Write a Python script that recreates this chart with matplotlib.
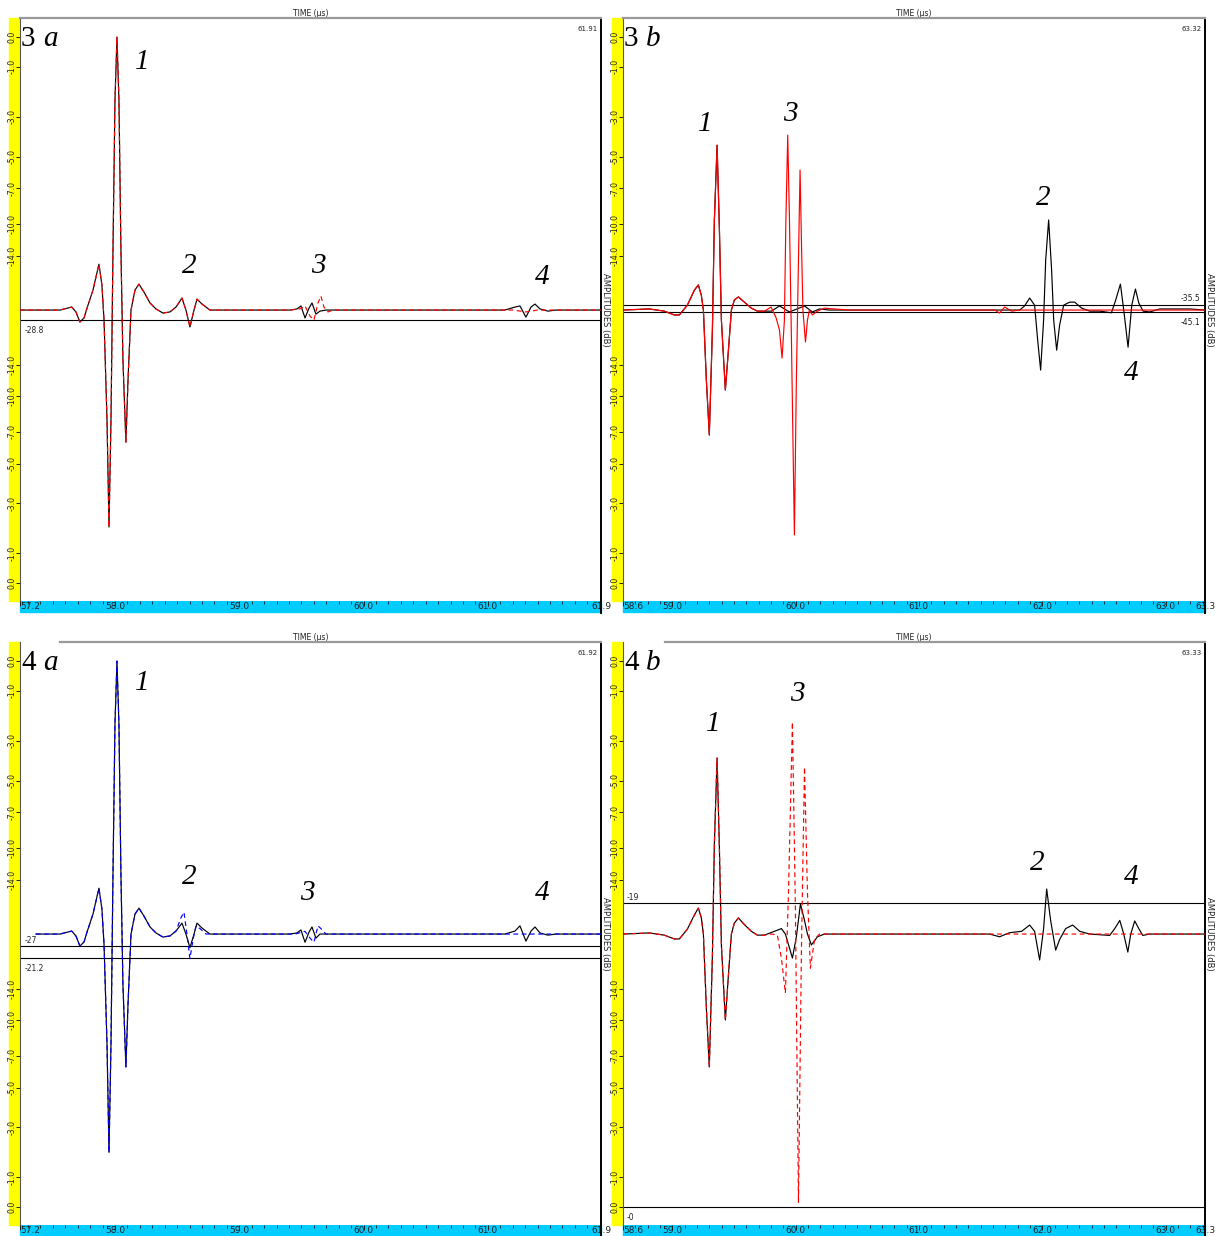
import matplotlib
matplotlib.use('Agg')
import matplotlib.pyplot as plt
from matplotlib.patches import Rectangle
from matplotlib.lines import Line2D

W, H = 1215, 1236
fig = plt.figure(figsize=(W / 100, H / 100), dpi=100)

# ---------------- data (time in microseconds, linear amplitude, 1 = 0 dB) ----------------
db_levels = [0.0, -1.0, -3.0, -5.0, -7.0, -10.0, -14.0]
db_labels = ["0.0", "-1.0", "-3.0", "-5.0", "-7.0", "-10.0", "-14.0"]

# Panel 3a : black solid and red dashed
t_3a_black = [57.236, 57.558, 57.652, 57.686, 57.718, 57.751, 57.775, 57.823, 57.871, 57.895,
              57.912, 57.936, 57.952, 57.968, 57.984, 58.000, 58.016, 58.032, 58.048, 58.064,
              58.088, 58.105, 58.129, 58.161, 58.193, 58.233, 58.282, 58.330, 58.386, 58.442,
              58.491, 58.539, 58.571, 58.603, 58.636, 58.660, 58.700, 58.764, 59.408, 59.464,
              59.496, 59.529, 59.561, 59.585, 59.617, 59.649, 59.697, 61.137, 61.218, 61.258,
              61.306, 61.347, 61.379, 61.419, 61.483, 61.548, 61.910]
a_3a_black = [0.0, 0.0, 0.011, -0.007, -0.044, -0.029, 0.007, 0.073, 0.168, 0.092,
              -0.037, -0.403, -0.795, -0.403, 0.220, 0.769, 1.000, 0.769, 0.220, -0.183,
              -0.484, -0.256, 0.0, 0.073, 0.095, 0.066, 0.026, 0.004, -0.011, -0.007,
              0.011, 0.044, 0.0, -0.062, 0.0, 0.040, 0.022, 0.0, 0.0, 0.004,
              0.015, -0.029, 0.007, 0.026, -0.015, -0.004, 0.0, 0.0, 0.011, 0.015,
              -0.026, 0.011, 0.022, 0.004, -0.004, 0.0, 0.0]
t_3a_red = t_3a_black[:38] + [59.408, 59.488, 59.529, 59.569, 59.601, 59.633, 59.657, 59.681,
                              59.714, 59.754, 61.200, 61.306, 61.400, 61.910]
a_3a_red = a_3a_black[:38] + [0.0, 0.004, 0.015, -0.022, -0.037, 0.026, 0.051, 0.011,
                              -0.007, 0.0, 0.0, -0.007, 0.0, 0.0]

# Panel 3b : black solid and red solid
t_3b_common = [58.600, 58.813, 58.935, 59.016, 59.057, 59.122, 59.179, 59.211, 59.235, 59.252,
               59.276, 59.300, 59.325, 59.341, 59.363, 59.382, 59.398, 59.430, 59.455, 59.479,
               59.503, 59.536, 59.584, 59.641, 59.690, 59.747]
a_3b_common = [0.0, 0.004, -0.004, -0.018, -0.018, 0.018, 0.073, 0.092, 0.055, 0.0,
               -0.256, -0.458, -0.073, 0.330, 0.604, 0.293, -0.037, -0.293, -0.147, 0.0,
               0.037, 0.048, 0.029, 0.007, -0.004, -0.004]
t_3b_red = t_3b_common + [59.801, 59.842, 59.869, 59.890, 59.909, 59.921, 59.936, 59.950, 59.966,
                          59.990, 60.006, 60.023, 60.036, 60.047, 60.059, 60.080, 60.096, 60.112,
                          60.136, 60.177, 60.234, 60.315, 60.437, 61.614, 61.654, 61.695, 61.752,
                          61.817, 63.320]
a_3b_red = a_3b_common + [0.011, -0.029, -0.073, -0.176, -0.037, 0.330, 0.641, 0.330, -0.110,
                          -0.824, -0.256, 0.183, 0.513, 0.256, 0.0, -0.117, -0.037, 0.0,
                          -0.018, -0.004, 0.007, 0.004, 0.0, 0.0, -0.011, 0.011, -0.004,
                          0.0, 0.0]
t_3b_black = t_3b_common + [59.804, 59.869, 59.950, 60.072, 60.136, 60.193, 60.274, 61.817, 61.857,
                            61.898, 61.938, 61.963, 61.987, 62.011, 62.028, 62.052, 62.076, 62.093,
                            62.117, 62.141, 62.174, 62.223, 62.263, 62.320, 62.385, 62.466, 62.561,
                            62.596, 62.634, 62.661, 62.696, 62.726, 62.756, 62.783, 62.818, 62.872,
                            62.953, 63.197, 63.320]
a_3b_black = a_3b_common + [-0.004, 0.015, -0.007, 0.015, -0.007, 0.004, 0.0, 0.0, 0.015,
                            0.044, 0.018, -0.110, -0.220, -0.037, 0.183, 0.330, 0.147, -0.037,
                            -0.147, -0.055, 0.018, 0.029, 0.029, 0.007, -0.004, -0.004, -0.010,
                            0.037, 0.095, 0.0, -0.136, 0.018, 0.077, 0.026, -0.004, -0.007,
                            0.004, 0.004, 0.0]

# Panel 4a : black solid and blue dashed
t_4a_common = [57.364, 57.558, 57.652, 57.686, 57.718, 57.751, 57.775, 57.823, 57.871, 57.895,
               57.912, 57.936, 57.952, 57.968, 57.984, 58.000, 58.016, 58.032, 58.048, 58.064,
               58.088, 58.105, 58.129, 58.161, 58.193, 58.233, 58.282, 58.330, 58.386, 58.442,
               58.491]
a_4a_common = [0.0, 0.0, 0.011, -0.007, -0.044, -0.029, 0.007, 0.073, 0.168, 0.092,
               -0.037, -0.403, -0.800, -0.403, 0.220, 0.769, 1.000, 0.769, 0.220, -0.183,
               -0.487, -0.256, 0.0, 0.073, 0.095, 0.066, 0.026, 0.004, -0.011, -0.007,
               0.011]
t_4a_black = t_4a_common + [58.539, 58.571, 58.603, 58.636, 58.660, 58.700, 58.764, 59.408, 59.464,
                            59.496, 59.529, 59.561, 59.585, 59.617, 59.649, 59.697, 61.137, 61.218,
                            61.258, 61.306, 61.347, 61.379, 61.419, 61.483, 61.548, 61.910]
a_4a_black = a_4a_common + [0.040, 0.0, -0.050, 0.0, 0.040, 0.022, 0.0, 0.0, 0.004,
                            0.015, -0.030, 0.007, 0.026, -0.015, 0.0, 0.0, 0.0, 0.011,
                            0.030, -0.026, 0.011, 0.026, 0.004, -0.004, 0.0, 0.0]
t_4a_blue = t_4a_common + [58.531, 58.555, 58.579, 58.603, 58.628, 58.652, 58.684, 58.732, 59.450,
                           59.529, 59.569, 59.601, 59.633, 59.657, 59.697, 59.750, 61.910]
a_4a_blue = a_4a_common + [0.060, 0.080, 0.0, -0.090, -0.020, 0.030, 0.020, 0.0, 0.0,
                           0.010, -0.015, -0.030, 0.030, 0.020, 0.0, 0.0, 0.0]

# Panel 4b : black solid and red dashed
t_4b_common = [58.600, 58.813, 58.935, 59.016, 59.057, 59.122, 59.179, 59.211, 59.235, 59.252,
               59.276, 59.300, 59.325, 59.341, 59.363, 59.382, 59.398, 59.430, 59.455, 59.479,
               59.503, 59.536, 59.584, 59.641, 59.690, 59.747]
a_4b_common = [0.0, 0.004, -0.004, -0.018, -0.018, 0.018, 0.070, 0.095, 0.060, 0.0,
               -0.270, -0.487, -0.080, 0.330, 0.645, 0.310, -0.040, -0.315, -0.150, 0.0,
               0.040, 0.059, 0.035, 0.010, -0.004, -0.004]
t_4b_black = t_4b_common + [59.828, 59.885, 59.917, 59.974, 60.006, 60.039, 60.072, 60.096, 60.128,
                            60.177, 60.234, 61.573, 61.654, 61.736, 61.833, 61.898, 61.938, 61.979,
                            62.011, 62.036, 62.068, 62.109, 62.141, 62.190, 62.247, 62.304, 62.385,
                            62.547, 62.588, 62.629, 62.661, 62.694, 62.718, 62.750, 62.783, 62.815,
                            62.872, 63.320]
a_4b_black = a_4b_common + [0.010, 0.020, 0.0, -0.088, -0.010, 0.110, 0.050, 0.0, -0.040,
                            -0.010, 0.0, 0.0, -0.010, 0.005, 0.010, 0.033, 0.010, -0.095,
                            0.020, 0.165, 0.050, -0.059, -0.020, 0.020, 0.033, 0.010, 0.0,
                            -0.005, 0.020, 0.050, 0.0, -0.066, 0.0, 0.048, 0.020, -0.005,
                            0.0, 0.0]
t_4b_red = t_4b_common + [59.804, 59.852, 59.885, 59.917, 59.942, 59.974, 59.998, 60.023, 60.047,
                          60.072, 60.096, 60.120, 60.153, 60.193, 63.320]
a_4b_red = a_4b_common + [0.0, -0.004, -0.090, -0.216, 0.150, 0.777, 0.100, -0.985, -0.060,
                          0.612, 0.150, -0.125, -0.020, 0.0, 0.0]

# reference threshold lines (dB value, sign of amplitude)
ref_3a = [(-28.8, -1)]
ref_3b = [(-35.5, 1), (-45.1, -1)]
ref_4a = [(-27.0, -1), (-21.2, -1)]
ref_4b = [(-19.0, 1), (-0.0, -1)]

SERIF = ['Liberation Serif', 'DejaVu Serif']


def fbox(x0, y0, x1, y1):
    return [x0 / W, 1 - y1 / H, (x1 - x0) / W, (y1 - y0) / H]


def panel(box, xlim, xmaj, endlabels, corner, num, letter, curves, refs, reflabels, echo_labels,
          topline_start):
    x0, y0, x1, y1 = box
    # yellow amplitude bar and cyan time bar (behind the axes and their tick labels)
    fig.patches.append(Rectangle(((x0 - 11) / W, 1 - y1 / H), 11 / W, (y1 - y0) / H,
                                 transform=fig.transFigure, color='#ffff00', zorder=-5))
    fig.patches.append(Rectangle((x0 / W, 1 - (y1 + 11) / H), (x1 - x0) / W, 11 / H,
                                 transform=fig.transFigure, color='#00ccff', zorder=-5))
    ax = fig.add_axes(fbox(x0, y0, x1, y1))
    ax.set_xlim(*xlim)
    ax.set_ylim(-1.066, 1.07)
    for s in ['top', 'bottom']:
        ax.spines[s].set_visible(False)
    ax.spines['left'].set_color('#555555')
    ax.spines['left'].set_linewidth(0.8)
    ax.spines['right'].set_color('black')
    ax.spines['right'].set_linewidth(1.4)
    # top grey line
    fig.lines.append(Line2D([topline_start / W, x1 / W], [1 - (y0 - 0.5) / H] * 2,
                            transform=fig.transFigure, color='#999999', lw=1.6))
    # right border extends over the cyan bar
    fig.lines.append(Line2D([x1 / W, x1 / W], [1 - y1 / H, 1 - (y1 + 12) / H],
                            transform=fig.transFigure, color='black', lw=1.4))
    # y ticks (dB on linear amplitude)
    pos = [10 ** (d / 20) for d in db_levels]
    yt = pos + [-p for p in pos]
    yl = db_labels + db_labels
    ax.set_yticks(yt)
    ax.set_yticklabels(yl)
    ax.tick_params(axis='y', direction='out', length=2.8, width=0.7, pad=-0.6, labelsize=5.6,
                   labelrotation=90, colors='#222222')
    for lab in ax.get_yticklabels():
        lab.set_verticalalignment('center')
    # x ticks
    ticks = [xlim[0]] + xmaj + [xlim[1]]
    labs = [endlabels[0]] + ["%.1f" % v for v in xmaj] + [endlabels[1]]
    ax.set_xticks(ticks)
    ax.set_xticklabels(labs)
    ax.set_xticks([round(xlim[0] + 0.1 * i, 1) for i in range(1, 60)
                   if xlim[0] + 0.1 * i < xlim[1]], minor=True)
    ax.tick_params(axis='x', which='major', direction='out', length=3.6, width=0.7, pad=-2.6,
                   labelsize=6.5, colors='#222222')
    ax.tick_params(axis='x', which='minor', direction='out', length=2.2, width=0.6, colors='#222222')
    xl = ax.get_xticklabels()
    xl[0].set_horizontalalignment('left')
    # curves
    for t, a, col, ls, lw, z in curves:
        ax.plot(t, a, color=col, ls=ls, lw=lw, zorder=z)
    # reference lines
    for (d, sgn), (txt, tx, dy, ha) in zip(refs, reflabels):
        yv = sgn * 10 ** (d / 20)
        ax.axhline(yv, color='black', lw=0.8, zorder=1)
        ax.annotate(txt, xy=(tx, yv), xycoords=('axes fraction', 'data'),
                    xytext=(0, dy), textcoords='offset pixels', ha=ha, va='center',
                    fontsize=5.5, color='#222222')
    # texts
    ax.text(0.5, 1.0, 'TIME (µs)', transform=ax.transAxes, ha='center', va='bottom',
            fontsize=5.5, color='#222222')
    ax.text(0.994, 0.981, corner, transform=ax.transAxes, ha='right', va='center',
            fontsize=5, color='#222222')
    fig.text((x1 + 5) / W, 1 - ((y0 + y1) / 2) / H, 'AMPLITUDES (dB)', rotation=270,
             ha='center', va='center', fontsize=6, color='#222222')
    fig.text((x0 + 1) / W, 1 - (y0 + 21) / H, num, ha='left', va='center', fontsize=21,
             family=SERIF)
    fig.text((x0 + 23) / W, 1 - (y0 + 21) / H, letter, ha='left', va='center', fontsize=21,
             family=SERIF, style='italic')
    for txt, tx, ty in echo_labels:
        ax.text(tx, ty, txt, ha='center', va='center', fontsize=21, family=SERIF,
                style='italic')
    return ax


DASH = (0, (4, 3))
LW = 0.85

panel((20, 18, 601, 601), (57.236, 61.91), [58.0, 59.0, 60.0, 61.0], ('57.2', '61.9'), '61.91',
      '3', 'a',
      [(t_3a_black, a_3a_black, 'black', '-', LW, 3),
       (t_3a_red, a_3a_red, 'red', DASH, LW, 4)],
      ref_3a, [('-28.8', 0.008, -11, 'left')],
      [('1', 58.22, 0.91), ('2', 58.60, 0.16), ('3', 59.64, 0.16), ('4', 61.44, 0.12)],
      20)

panel((623, 18, 1205, 601), (58.6, 63.32), [59.0, 60.0, 61.0, 62.0, 63.0], ('58.6', '63.3'),
      '63.32', '3', 'b',
      [(t_3b_black, a_3b_black, 'black', '-', LW, 3),
       (t_3b_red, a_3b_red, 'red', '-', LW, 4)],
      ref_3b, [('-35.5', 0.992, 7, 'right'), ('-45.1', 0.992, -11, 'right')],
      [('1', 59.27, 0.68), ('3', 59.96, 0.72), ('2', 62.01, 0.41), ('4', 62.72, -0.23)],
      623)

panel((20, 642, 601, 1225), (57.236, 61.91), [58.0, 59.0, 60.0, 61.0], ('57.2', '61.9'), '61.92',
      '4', 'a',
      [(t_4a_black, a_4a_black, 'black', '-', LW, 3),
       (t_4a_blue, a_4a_blue, 'blue', DASH, LW, 4)],
      ref_4a, [('-27', 0.008, 6, 'left'), ('-21.2', 0.008, -11, 'left')],
      [('1', 58.22, 0.92), ('2', 58.60, 0.21), ('3', 59.55, 0.15), ('4', 61.44, 0.15)],
      60)

panel((623, 642, 1205, 1225), (58.6, 63.32), [59.0, 60.0, 61.0, 62.0, 63.0], ('58.6', '63.3'),
      '63.33', '4', 'b',
      [(t_4b_black, a_4b_black, 'black', '-', LW, 3),
       (t_4b_red, a_4b_red, 'red', DASH, LW, 4)],
      ref_4b, [('-19', 0.006, 6, 'left'), ('-0', 0.006, -11, 'left')],
      [('1', 59.33, 0.77), ('3', 60.01, 0.88), ('2', 61.96, 0.26), ('4', 62.72, 0.21)],
      665)

fig.savefig('out.png', dpi=100)
